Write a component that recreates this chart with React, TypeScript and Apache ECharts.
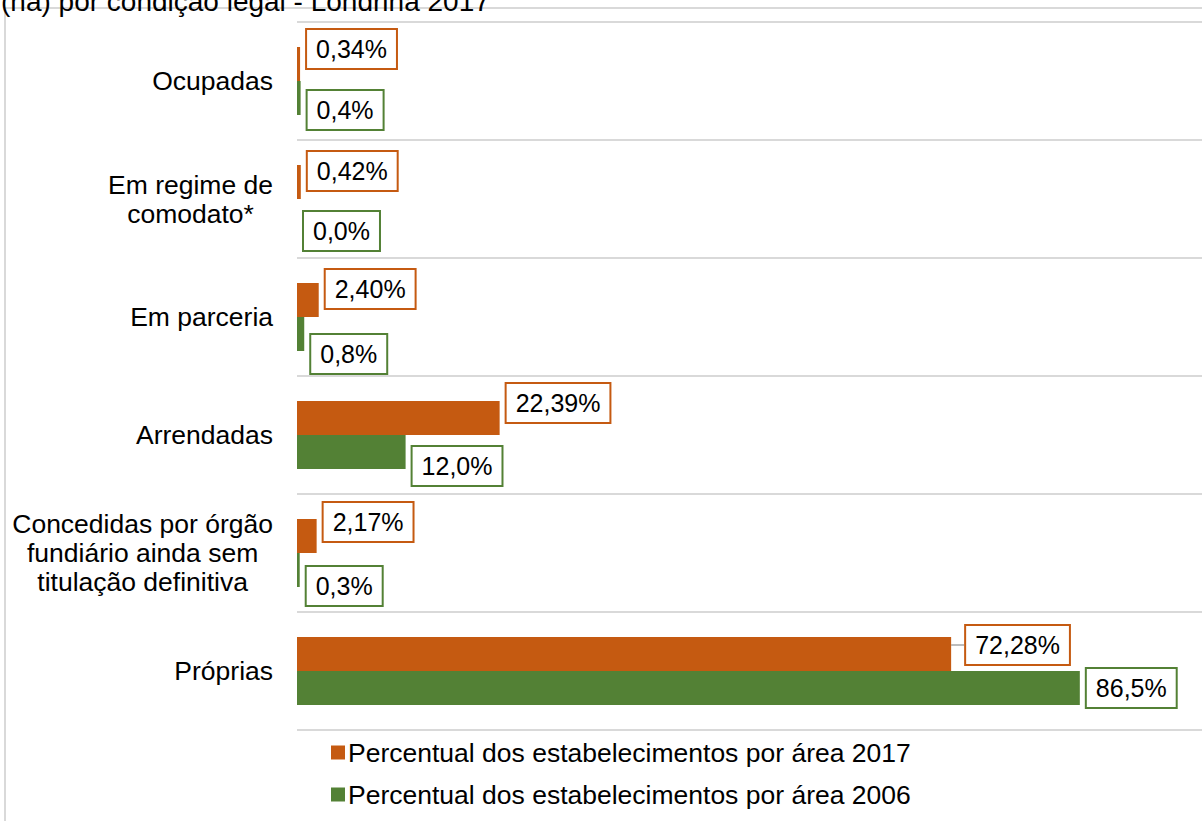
import React, { useEffect, useRef } from "react";
import * as echarts from "echarts";

const categories = [
  "Ocupadas",
  "Em regime de\ncomodato*",
  "Em parceria",
  "Arrendadas",
  "Concedidas por órgão\nfundiário ainda sem\ntitulação definitiva",
  "Próprias",
];
const values2017 = [0.34, 0.42, 2.4, 22.39, 2.17, 72.28];
const values2006 = [0.4, 0.0, 0.8, 12.0, 0.3, 86.5];
const seriesNames = [
  "Percentual dos estabelecimentos por área 2017",
  "Percentual dos estabelecimentos por área 2006",
];
const titleText = "(ha) por condição legal - Londrina 2017";

// label placement (styling, not data)
const offsets2017 = [[0, -15], [0, -11], [0, -11], [0, -15], [0, -14], [8, -9]];
const offsets2006 = [[0, 12], [0, 15], [0, 20], [0, 14], [0, 16], [0, 0]];

const FONT = "'Liberation Sans', Arial, sans-serif";
const ORANGE = "#C55A11";
const GREEN = "#538135";

export default function App() {
  const ref = useRef<HTMLDivElement>(null);
  useEffect(() => {
    if (!ref.current) return;
    const chart = echarts.init(ref.current, null, { renderer: "svg" });
    const labelBase = {
      show: true,
      position: "right",
      distance: 7,
      color: "#000",
      fontSize: 25,
      fontFamily: FONT,
      lineHeight: 28,
      backgroundColor: "#fff",
      borderWidth: 2,
      padding: [5, 9],
    };
    const option: any = {
      animation: false,
      backgroundColor: "#fff",
      grid: { left: 297, top: 22, width: 911, height: 708, containLabel: false },
      xAxis: { type: "value", min: 0, max: 100, show: false },
      yAxis: {
        type: "category",
        data: categories,
        inverse: true,
        axisLine: { show: false },
        axisTick: { show: false },
        splitLine: { show: true, lineStyle: { color: "#d9d9d9", width: 2 } },
        axisLabel: {
          margin: 24,
          align: "right",
          formatter: (v: string) =>
            v
              .split("\n")
              .map((l) => `{c|${l}}`)
              .join("\n"),
          rich: {
            c: {
              align: "center",
              fontSize: 26.5,
              lineHeight: 29,
              fontFamily: FONT,
              color: "#000",
            },
          },
        },
      },
      legend: {
        orient: "vertical",
        left: 326,
        top: 733,
        icon: "rect",
        itemWidth: 14,
        itemHeight: 14,
        itemGap: 13,
        textStyle: { fontSize: 26.5, fontFamily: FONT, color: "#000", lineHeight: 29, padding: [0, 0, 0, -2] },
        data: seriesNames,
      },
      series: [
        {
          name: seriesNames[0],
          type: "bar",
          barWidth: 34,
          barGap: "0%",
          itemStyle: { color: ORANGE },
          label: {
            ...labelBase,
            borderColor: ORANGE,
            formatter: (p: any) => p.value.toFixed(2).replace(".", ",") + "%",
          },
          labelLine: { show: false },
          labelLayout: (p: any) => ({ dx: offsets2017[p.dataIndex][0], dy: offsets2017[p.dataIndex][1] }),
          data: values2017.map((v, i) =>
            i === 5 ? { value: v, labelLine: { show: true, lineStyle: { color: "#a6a6a6", width: 1.5 } } } : v
          ),
        },
        {
          name: seriesNames[1],
          type: "bar",
          barWidth: 34,
          barGap: "0%",
          itemStyle: { color: GREEN },
          label: {
            ...labelBase,
            borderColor: GREEN,
            formatter: (p: any) => p.value.toFixed(1).replace(".", ",") + "%",
          },
          labelLayout: (p: any) => ({ dx: offsets2006[p.dataIndex][0], dy: offsets2006[p.dataIndex][1] }),
          data: values2006,
        },
      ],
      graphic: [
        {
          type: "line",
          shape: { x1: 5, y1: 8, x2: 5, y2: 830 },
          style: { stroke: "#d9d9d9", lineWidth: 2 },
        },
        {
          type: "line",
          shape: { x1: 5, y1: 8, x2: 1210, y2: 8 },
          style: { stroke: "#d9d9d9", lineWidth: 2 },
        },
        {
          type: "text",
          x: 1,
          y: 1,
          style: {
            text: titleText,
            fontSize: 28,
            fontFamily: FONT,
            fill: "#000",
            verticalAlign: "middle",
          },
        },
      ],
    };
    chart.setOption(option);
    return () => chart.dispose();
  }, []);
  return (
    <div
      ref={ref}
      style={{ position: "absolute", left: 0, top: 0, width: 1202, height: 821 }}
    />
  );
}
